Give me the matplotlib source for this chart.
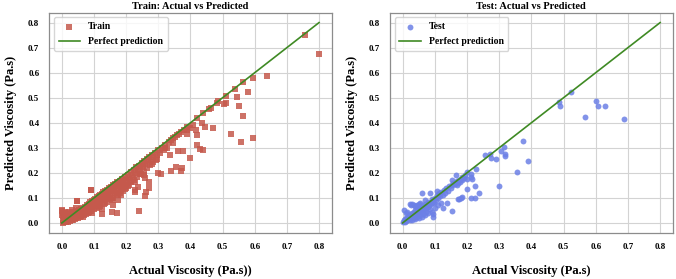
import matplotlib
matplotlib.use("Agg")
import matplotlib.pyplot as plt
import numpy as np

# ---------------- data ----------------
train_core = [
(0.002,0.001),(0.004,0.012),(0.006,0.004),(0.008,0.019),(0.003,0.027),(0.010,0.008),(0.012,0.015),(0.014,0.024),
(0.011,0.033),(0.016,0.006),(0.018,0.013),(0.019,0.028),(0.021,0.019),(0.023,0.010),(0.024,0.036),(0.026,0.024),
(0.028,0.015),(0.029,0.031),(0.031,0.022),(0.033,0.040),(0.034,0.018),(0.036,0.029),(0.038,0.035),(0.039,0.024),
(0.041,0.045),(0.043,0.031),(0.044,0.022),(0.046,0.039),(0.048,0.028),(0.049,0.047),(0.051,0.036),(0.053,0.052),
(0.054,0.030),(0.056,0.043),(0.058,0.055),(0.059,0.038),(0.061,0.049),(0.063,0.034),(0.064,0.060),(0.066,0.045),
(0.068,0.053),(0.069,0.040),(0.071,0.064),(0.073,0.050),(0.074,0.058),(0.076,0.044),(0.078,0.070),(0.079,0.055),
(0.081,0.062),(0.083,0.048),(0.084,0.077),(0.086,0.066),(0.088,0.057),(0.089,0.083),(0.091,0.072),(0.093,0.062),
(0.094,0.088),(0.096,0.078),(0.098,0.066),(0.099,0.092),(0.101,0.083),(0.103,0.071),(0.104,0.097),(0.106,0.088),
(0.108,0.076),(0.109,0.102),(0.111,0.093),(0.113,0.080),(0.114,0.107),(0.116,0.097),(0.118,0.085),(0.119,0.112),
(0.121,0.102),(0.123,0.090),(0.124,0.117),(0.126,0.108),(0.128,0.095),(0.129,0.122),(0.131,0.112),(0.133,0.100),
(0.135,0.127),(0.137,0.118),(0.139,0.106),(0.141,0.133),(0.143,0.123),(0.145,0.111),(0.147,0.139),(0.149,0.128),
(0.151,0.117),(0.153,0.145),(0.155,0.134),(0.157,0.122),(0.159,0.150),(0.161,0.140),(0.163,0.127),(0.166,0.156),
(0.168,0.146),(0.170,0.133),(0.173,0.162),(0.175,0.151),(0.178,0.140),(0.180,0.169),(0.183,0.158),(0.186,0.147),
(0.188,0.176),(0.191,0.165),(0.194,0.153),(0.197,0.184),(0.200,0.172),(0.203,0.160),(0.206,0.193),(0.209,0.181),
(0.212,0.169),(0.215,0.202),(0.218,0.190),(0.222,0.178),(0.225,0.211),(0.228,0.199),(0.232,0.222),(0.236,0.208),
(0.240,0.229),(0.244,0.216),(0.248,0.238),(0.252,0.226),(0.256,0.247),(0.260,0.234),(0.264,0.255),(0.268,0.243),
(0.272,0.263),(0.276,0.251),(0.280,0.272),(0.285,0.262),(0.290,0.281),(0.295,0.270),(0.300,0.290),(0.305,0.281),
(0.311,0.300),(0.317,0.292),(0.322,0.310),(0.328,0.301),(0.334,0.322),(0.340,0.330),(0.346,0.338),(0.352,0.343),
(0.358,0.350),(0.364,0.357),(0.370,0.362),
(0.001,0.048),(0.005,0.038),(0.009,0.045),(0.015,0.040),(0.022,0.045),(0.030,0.050),(0.045,0.060),(0.047,0.086),
(0.090,0.130),(0.000,0.030),(0.007,0.030),(0.013,0.036),
(0.030,0.010),(0.040,0.015),(0.050,0.020),(0.060,0.028),(0.070,0.032),(0.080,0.038),(0.090,0.046),(0.100,0.054),
(0.110,0.060),(0.120,0.068),(0.130,0.076),(0.140,0.084),(0.150,0.094),(0.160,0.100),(0.170,0.110),(0.180,0.118),
(0.190,0.128),(0.200,0.140),(0.210,0.150),(0.065,0.025),(0.095,0.040),(0.125,0.055),(0.105,0.070),(0.145,0.100),
(0.165,0.120),(0.185,0.135),(0.215,0.165),(0.235,0.185),(0.255,0.205),(0.275,0.230),(0.295,0.255),
(0.035,0.012),(0.045,0.018),(0.055,0.024),(0.075,0.036),(0.085,0.042),(0.115,0.064),(0.135,0.080),(0.155,0.098),
(0.175,0.114),(0.195,0.134),(0.205,0.146),(0.225,0.172),(0.245,0.196),(0.265,0.218),(0.285,0.242),(0.020,0.004),
(0.012,0.002),(0.025,0.006),
]
train_outliers = [
(0.757,0.750),(0.800,0.673),(0.639,0.586),(0.593,0.579),(0.564,0.562),(0.539,0.534),(0.579,0.523),(0.545,0.502),
(0.512,0.507),(0.550,0.465),(0.504,0.474),(0.510,0.480),(0.485,0.487),(0.481,0.480),(0.463,0.458),(0.457,0.456),
(0.438,0.438),(0.562,0.425),(0.421,0.418),(0.436,0.398),(0.444,0.385),(0.471,0.381),(0.409,0.390),(0.390,0.385),
(0.417,0.373),(0.390,0.370),(0.527,0.355),(0.419,0.350),(0.595,0.339),(0.390,0.355),(0.556,0.323),(0.430,0.296),
(0.421,0.312),(0.440,0.290),(0.398,0.260),(0.376,0.289),(0.361,0.289),(0.355,0.225),(0.374,0.221),(0.336,0.272),
(0.371,0.207),(0.340,0.208),(0.309,0.195),(0.299,0.200),(0.260,0.179),(0.270,0.162),(0.272,0.139),(0.262,0.122),
(0.260,0.106),(0.227,0.133),(0.227,0.122),(0.237,0.143),(0.227,0.162),(0.241,0.046),(0.173,0.040),(0.156,0.044),
(0.183,0.111),(0.175,0.093),(0.156,0.090),(0.158,0.070),(0.125,0.034),(0.090,0.130),(0.047,0.086),(0.000,0.053),
(0.191,0.166),(0.280,0.235),(0.293,0.252),(0.253,0.225),(0.256,0.190),(0.243,0.197),(0.320,0.300),(0.345,0.320),
(0.380,0.370),(0.400,0.380),
]
test_points = [
(0.002,0.002),(0.004,0.010),(0.006,0.005),(0.008,0.015),(0.010,0.008),(0.012,0.020),(0.014,0.012),(0.016,0.025),
(0.018,0.016),(0.020,0.030),(0.022,0.020),(0.024,0.012),(0.026,0.034),(0.028,0.024),(0.030,0.040),(0.032,0.028),
(0.034,0.018),(0.036,0.045),(0.038,0.032),(0.040,0.052),(0.042,0.036),(0.044,0.024),(0.046,0.055),(0.048,0.040),
(0.050,0.062),(0.052,0.044),(0.054,0.030),(0.056,0.060),(0.058,0.048),(0.060,0.070),(0.062,0.052),(0.064,0.036),
(0.066,0.064),(0.068,0.056),(0.070,0.075),(0.072,0.060),(0.074,0.045),(0.076,0.072),(0.078,0.064),(0.080,0.085),
(0.082,0.070),(0.084,0.055),(0.086,0.080),(0.088,0.074),(0.090,0.095),(0.093,0.082),(0.096,0.090),(0.099,0.078),
(0.102,0.100),(0.105,0.092),(0.108,0.110),(0.111,0.098),(0.114,0.118),(0.117,0.106),(0.120,0.125),(0.124,0.112),
(0.128,0.130),(0.132,0.120),(0.136,0.138),(0.140,0.128),(0.145,0.146),(0.150,0.140),(0.155,0.152),(0.160,0.155),
(0.165,0.162),(0.170,0.166),(0.175,0.172),(0.180,0.175),(0.185,0.184),(0.190,0.180),(0.195,0.190),
(0.003,0.050),(0.022,0.074),(0.030,0.077),(0.025,0.070),(0.035,0.072),(0.040,0.066),(0.045,0.070),(0.060,0.120),
(0.086,0.120),(0.108,0.127),(0.113,0.114),(0.015,0.045),(0.010,0.040),(0.050,0.075),(0.055,0.080),(0.070,0.090),
(0.094,0.034),(0.096,0.024),(0.125,0.058),(0.137,0.080),(0.152,0.049),(0.175,0.096),(0.185,0.104),(0.212,0.098),
(0.224,0.101),(0.238,0.120),(0.224,0.149),(0.201,0.135),(0.070,0.030),(0.080,0.040),(0.060,0.025),(0.100,0.060),
(0.110,0.070),(0.050,0.020),(0.040,0.015),(0.030,0.010),(0.090,0.045),(0.120,0.080),
(0.164,0.155),(0.171,0.160),(0.166,0.191),(0.200,0.175),(0.201,0.202),(0.212,0.196),(0.214,0.185),(0.216,0.175),
(0.228,0.215),(0.255,0.273),(0.272,0.276),(0.274,0.260),(0.290,0.255),(0.298,0.146),(0.305,0.289),(0.315,0.303),
(0.319,0.276),(0.319,0.268),(0.356,0.204),(0.374,0.328),(0.391,0.247),(0.486,0.482),(0.490,0.467),(0.523,0.524),
(0.600,0.488),(0.606,0.467),(0.628,0.467),(0.567,0.422),(0.688,0.414),(0.185,0.170),(0.177,0.163),(0.154,0.170),
(0.168,0.150),(0.156,0.160),(0.180,0.101),(0.172,0.096),
]
perfect_line = [0.0, 0.8]
tick_values = [0.0, 0.1, 0.2, 0.3, 0.4, 0.5, 0.6, 0.7, 0.8]
titles = ["Train: Actual vs Predicted", "Test: Actual vs Predicted"]
xlabels = ["Actual Viscosity (Pa.s))", "Actual Viscosity (Pa.s)"]
ylabel = "Predicted Viscosity (Pa.s)"
series_names = ["Train", "Test"]

# ---------------- style ----------------
plt.rcParams['font.family'] = ['Liberation Serif', 'DejaVu Serif']
plt.rcParams['font.weight'] = 'bold'

fig = plt.figure(figsize=(6.76, 2.79), dpi=100)
ax1 = fig.add_axes([0.0725, 0.165, 0.4185, 0.79])
ax2 = fig.add_axes([0.5765, 0.165, 0.4191, 0.79])

train = np.array(train_core + train_outliers)
test = np.array(test_points)

ax1.scatter(train[:, 0], train[:, 1], marker='s', s=14, color='#c5594c', alpha=0.85,
            linewidths=0, label=series_names[0], zorder=3)
ax2.scatter(test[:, 0], test[:, 1], marker='o', s=18, color='#6c80e6', alpha=0.85,
            linewidths=0, label=series_names[1], zorder=3)

for ax, title, xl in zip([ax1, ax2], titles, xlabels):
    ax.plot(perfect_line, perfect_line, color='#3f8a24', lw=1.2, label='Perfect prediction', zorder=4)
    ax.set_xlim(-0.04, 0.84)
    ax.set_ylim(-0.04, 0.84)
    ax.set_xticks(tick_values)
    ax.set_yticks(tick_values)
    ax.set_xticklabels([f"{v:.1f}" for v in tick_values])
    ax.set_yticklabels([f"{v:.1f}" for v in tick_values])
    ax.tick_params(length=0, labelsize=6.5, pad=7)
    for lab in ax.get_xticklabels() + ax.get_yticklabels():
        lab.set_fontweight('bold')
    ax.grid(True, color='#d3d3d3', lw=0.8, zorder=0)
    ax.set_axisbelow(True)
    for sp in ax.spines.values():
        sp.set_color('#8c8c8c')
        sp.set_linewidth(0.9)
    ax.set_title(title, fontsize=7.5, fontweight='bold', pad=2.5)
    ax.set_xlabel(xl, fontsize=9, fontweight='bold', labelpad=10)
    ax.set_ylabel(ylabel, fontsize=9, fontweight='bold', labelpad=8)
    leg = ax.legend(loc='upper left', fontsize=7, frameon=True, borderpad=0.5,
                    handlelength=2.2, labelspacing=0.6, fancybox=True)
    leg.get_frame().set_edgecolor('#cccccc')
    for t in leg.get_texts():
        t.set_fontweight('bold')

fig.savefig("out.png", dpi=100)
